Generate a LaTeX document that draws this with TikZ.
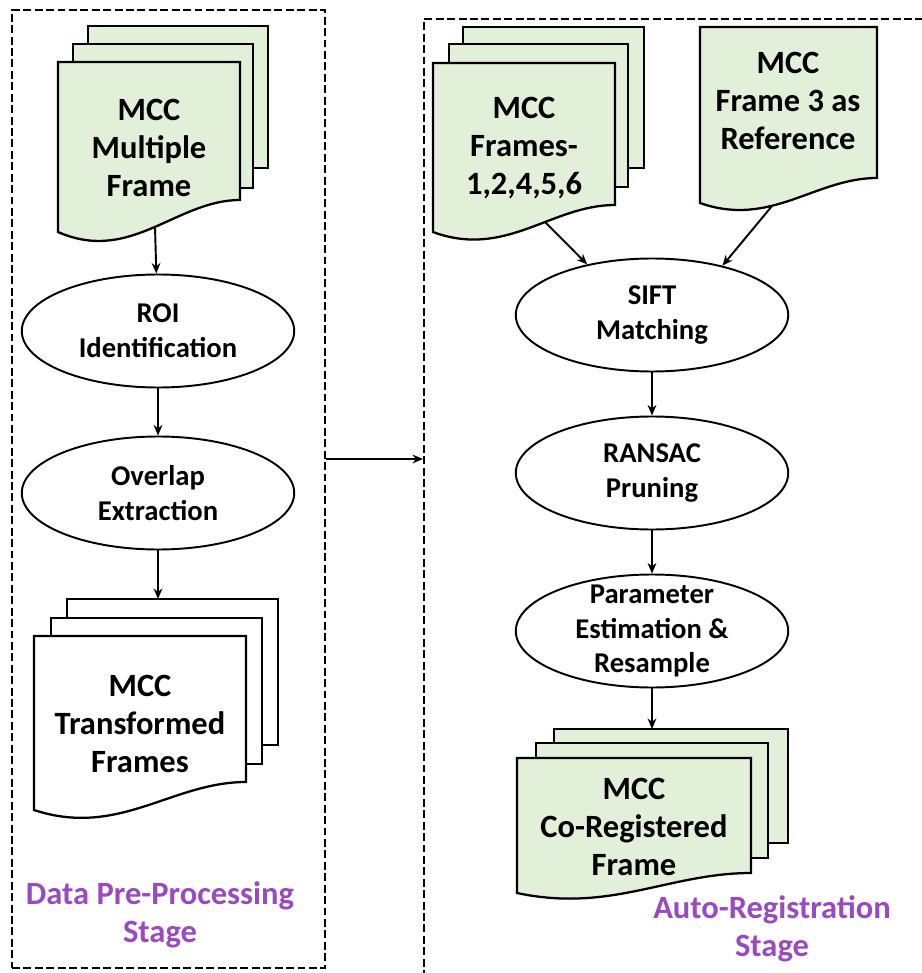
\documentclass[tikz,border=0pt]{standalone}
\usepackage{fontspec}
\setmainfont{Carlito}
\usetikzlibrary{shapes.geometric, positioning, arrows.meta}

\definecolor{pagegreen}{RGB}{226,240,217}
\definecolor{stagepurple}{RGB}{153,74,190}

\tikzset{
  docline/.style={line width=1.3pt},
  doctext/.style={align=center, font=\fontsize{18.5}{21.5}\selectfont\bfseries},
  stepoval/.style={ellipse, draw, line width=1.1pt, minimum width=5.45cm, minimum height=2.26cm,
    inner xsep=0pt, inner ysep=-10pt, align=center, font=\fontsize{16.3}{19.8}\selectfont\bfseries},
  stagebox/.style={draw, dash pattern=on 4.5pt off 2pt, line width=1.2pt},
  stagetext/.style={align=center, text=stagepurple, font=\fontsize{18.5}{21.5}\selectfont\bfseries},
  flow/.style={->, line width=1.1pt},
  bigflow/.style={->, line width=1.6pt},
}

% front page of a stack: x, y, width, right height, left height, fill
\newcommand{\docpage}[6]{%
  \pgfmathsetmacro{\docR}{#1+#3}%
  \pgfmathsetmacro{\docY}{#2+#4}%
  \pgfmathsetmacro{\docL}{#2+#5}%
  \pgfmathsetmacro{\docA}{#1+0.65*#3}%
  \pgfmathsetmacro{\docB}{#1+0.4*#3}%
  \pgfmathsetmacro{\docC}{#2+#4+2*(#5-#4)}%
  \draw[docline, fill=#6] (#1,#2) -- (\docR,#2) -- (\docR,\docY)
    .. controls (\docA,\docY) and (\docB,\docC) .. (#1,\docL) -- cycle;
}

\begin{document}
\begin{tikzpicture}[x=0.02cm, y=-0.02cm, >={Stealth[length=6pt,width=5pt]}]
\useasboundingbox (0,0) rectangle (922,973);
\clip (0,0) rectangle (922,973);

\node[stagebox, minimum width=6.26cm, minimum height=19.16cm] (prebox) at (168.5,489){};
\node[stagebox, minimum width=10.4cm, minimum height=19.8cm, anchor=north west] (regbox) at (423,18){};

\begin{scope}
% MCC multiple frame
\draw[docline, fill=pagegreen] (88,26) rectangle ++(180,142);
\draw[docline, fill=pagegreen] (73,44) rectangle ++(180,144);
\docpage{58}{62}{182}{138}{170}{pagegreen}
\node[doctext] (multi) at (149,148) {MCC\\Multiple\\Frame};
\coordinate (multibot) at (155,227);

\node[stepoval] (roi) at (158,331) {ROI\\Identification};
\node[stepoval] (overlap) at (158,493) {Overlap\\Extraction};

% transformed frames
\draw[docline, fill=white] (67,599) rectangle ++(211,146);
\draw[docline, fill=white] (51,618) rectangle ++(211,146);
\docpage{34}{636}{212}{146}{174}{white}
\node[doctext] (trans) at (140,724) {MCC\\Transformed\\Frames};
\coordinate (transtop) at (158,599);

\draw[flow](multibot)--(roi);
\draw[flow](roi)--(overlap);
\draw[flow](overlap)--(transtop);

\node[stagetext] (prelabel) at (160,915) {Data Pre-Processing\\Stage};
\end{scope}

\begin{scope}
% MCC frames 1,2,4,5,6
\draw[docline, fill=pagegreen] (463,27) rectangle ++(181,141);
\draw[docline, fill=pagegreen] (449,44) rectangle ++(179,143);
\docpage{433}{63}{182}{142}{169}{pagegreen}
\node[doctext] (frames) at (524,148) {MCC\\Frames-\\1,2,4,5,6};
\coordinate (framesbot) at (545,222);

% reference frame
\docpage{700}{27}{177}{151}{176}{pagegreen}
\node[doctext] (ref) at (788,101) {MCC\\Frame 3 as\\Reference};
\coordinate (refbot) at (772,206);

\node[stepoval] (sift) at (652,315) {SIFT\\Matching};
\node[stepoval] (ransac) at (652,473) {RANSAC\\Pruning};
\node[stepoval] (param) at (652,631) {Parameter\\Estimation \&\\Resample};

% co-registered frames
\draw[docline, fill=pagegreen] (554,729) rectangle ++(234,114);
\draw[docline, fill=pagegreen] (536,743) rectangle ++(232,115);
\docpage{517}{758}{234}{115}{135}{pagegreen}
\node[doctext] (coreg) at (634,827) {MCC\\Co-Registered\\Frame};
\coordinate (coregtop) at (652,729);

\draw[flow](framesbot)--(sift.142);
\draw[flow](refbot)--(sift.35);
\draw[flow](sift)--(ransac);
\draw[flow](ransac)--(param);
\draw[flow](param)--(coregtop);

\node[stagetext] (reglabel) at (772,929) {Auto-Registration\\Stage};
\end{scope}

\coordinate (handoff) at (prebox.east |- 0,459);
\draw[bigflow](handoff)--(handoff -| regbox.west);
\end{tikzpicture}
\end{document}
